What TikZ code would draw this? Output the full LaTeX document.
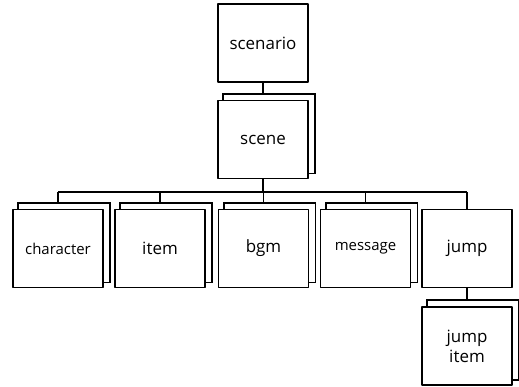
\documentclass[tikz,border=0pt]{standalone}
\usepackage{fontspec}
\setmainfont{Open Sans}
\usetikzlibrary{backgrounds}
\begin{document}
\begin{tikzpicture}[x=1bp,y=-1bp,line join=round,
	font=\fontsize{17}{20}\selectfont,
	link/.style={line width=1.6bp},
	box/.style={draw,fill=white,line width=1.6bp,minimum width=90bp,minimum height=78bp,inner sep=2bp,align=center},
	small/.style={font=\fontsize{15}{18}\selectfont}]
		\useasboundingbox (0,0) rectangle (519,386);
		\node[box] (scenario) at (263,43) {scenario};
		\node[box] (scene) at (263,139.5) {scene};
		\node[box,small] (character) at (58,248.5) {character};
		\node[box] (item) at (160,248.5) {item};
		\node[box] (bgm) at (263.5,248.5) {bgm};
		\node[box,small] (message) at (365.5,248.5) {message};
		\node[box] (jump) at (467,248.5) {jump};
		\node[box] (jumpitem) at (467,346) {jump\\item};
		\coordinate (bar) at (263,192);
		% connectors go under the boxes
		\begin{scope}[on background layer]
			\draw[link] (scenario) -- (scene);
			\draw[link] (scene) -- (bar);
			\draw[link] (character |- bar) -- (jump |- bar);
			\foreach \n in {character,item,bgm,message,jump}
				\draw[link] (\n |- bar) -- (\n);
			\draw[link] (jump) -- (jumpitem);
			% second sheet behind the stacked boxes
			\foreach \n in {scene,character,item,bgm,message,jumpitem}
				\draw[link,fill=white] ([shift={(6bp,6bp)}]\n.south west) rectangle ([shift={(6bp,6bp)}]\n.north east);
		\end{scope}
\end{tikzpicture}
\end{document}
